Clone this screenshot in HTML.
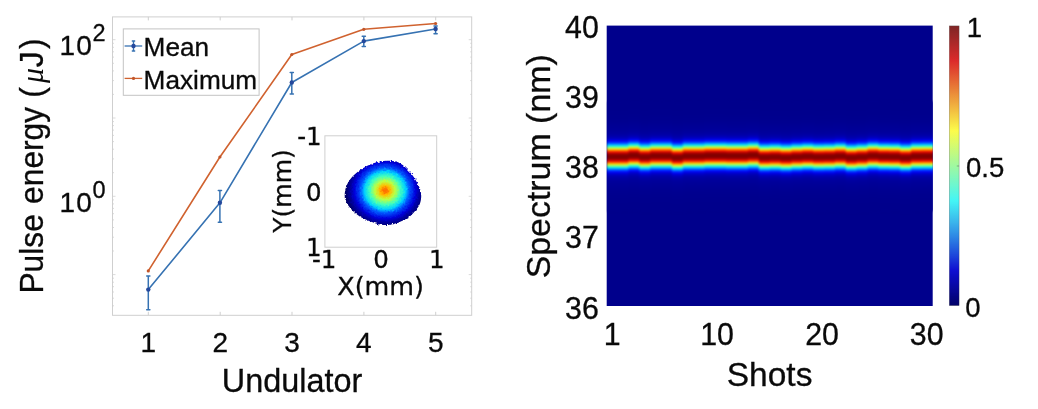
<!DOCTYPE html>
<html><head><meta charset="utf-8"><title>Figure</title>
<style>
html,body{margin:0;padding:0;background:#fff;}
body{width:1038px;height:409px;overflow:hidden;}
svg{display:block;}
text{font-family:"Liberation Sans",sans-serif;fill:#0a0a0a;stroke:#0a0a0a;stroke-width:0.3px;}
.dj{font-family:"DejaVu Sans",sans-serif;}
</style></head><body>
<svg width="1038" height="409" viewBox="0 0 1038 409">
<defs>
<linearGradient id="band" x1="0" y1="0" x2="0" y2="1"><stop offset="0.0000" stop-color="#00008c"/><stop offset="0.0091" stop-color="#00008c"/><stop offset="0.0182" stop-color="#00008c"/><stop offset="0.0273" stop-color="#00008c"/><stop offset="0.0364" stop-color="#00008c"/><stop offset="0.0455" stop-color="#00008c"/><stop offset="0.0545" stop-color="#00008c"/><stop offset="0.0636" stop-color="#00008c"/><stop offset="0.0727" stop-color="#00008c"/><stop offset="0.0818" stop-color="#00008d"/><stop offset="0.0909" stop-color="#00008d"/><stop offset="0.1000" stop-color="#00008d"/><stop offset="0.1091" stop-color="#00008d"/><stop offset="0.1182" stop-color="#00008d"/><stop offset="0.1273" stop-color="#00008e"/><stop offset="0.1364" stop-color="#00008e"/><stop offset="0.1455" stop-color="#00008e"/><stop offset="0.1545" stop-color="#00008f"/><stop offset="0.1636" stop-color="#00008f"/><stop offset="0.1727" stop-color="#000090"/><stop offset="0.1818" stop-color="#000090"/><stop offset="0.1909" stop-color="#000091"/><stop offset="0.2000" stop-color="#000092"/><stop offset="0.2091" stop-color="#000093"/><stop offset="0.2182" stop-color="#000094"/><stop offset="0.2273" stop-color="#000095"/><stop offset="0.2364" stop-color="#000096"/><stop offset="0.2455" stop-color="#000097"/><stop offset="0.2545" stop-color="#000098"/><stop offset="0.2636" stop-color="#00009a"/><stop offset="0.2727" stop-color="#00009b"/><stop offset="0.2818" stop-color="#00009d"/><stop offset="0.2909" stop-color="#0000a0"/><stop offset="0.3000" stop-color="#0000a3"/><stop offset="0.3091" stop-color="#0000a8"/><stop offset="0.3182" stop-color="#0000ae"/><stop offset="0.3273" stop-color="#0000b7"/><stop offset="0.3364" stop-color="#0000c3"/><stop offset="0.3455" stop-color="#0000d5"/><stop offset="0.3545" stop-color="#0000ec"/><stop offset="0.3636" stop-color="#000dff"/><stop offset="0.3727" stop-color="#0035ff"/><stop offset="0.3818" stop-color="#0068ff"/><stop offset="0.3909" stop-color="#00a5ff"/><stop offset="0.4000" stop-color="#00ecff"/><stop offset="0.4091" stop-color="#3cffc3"/><stop offset="0.4182" stop-color="#92ff6d"/><stop offset="0.4273" stop-color="#ecff13"/><stop offset="0.4364" stop-color="#ffba00"/><stop offset="0.4455" stop-color="#ff6600"/><stop offset="0.4545" stop-color="#ff1b00"/><stop offset="0.4636" stop-color="#db0000"/><stop offset="0.4727" stop-color="#aa0000"/><stop offset="0.4818" stop-color="#890000"/><stop offset="0.4909" stop-color="#800000"/><stop offset="0.5000" stop-color="#800000"/><stop offset="0.5091" stop-color="#800000"/><stop offset="0.5182" stop-color="#890000"/><stop offset="0.5273" stop-color="#aa0000"/><stop offset="0.5364" stop-color="#db0000"/><stop offset="0.5455" stop-color="#ff1b00"/><stop offset="0.5545" stop-color="#ff6600"/><stop offset="0.5636" stop-color="#ffba00"/><stop offset="0.5727" stop-color="#ecff13"/><stop offset="0.5818" stop-color="#92ff6d"/><stop offset="0.5909" stop-color="#3cffc3"/><stop offset="0.6000" stop-color="#00ecff"/><stop offset="0.6091" stop-color="#00a5ff"/><stop offset="0.6182" stop-color="#0068ff"/><stop offset="0.6273" stop-color="#0035ff"/><stop offset="0.6364" stop-color="#000dff"/><stop offset="0.6455" stop-color="#0000ec"/><stop offset="0.6545" stop-color="#0000d5"/><stop offset="0.6636" stop-color="#0000c3"/><stop offset="0.6727" stop-color="#0000b7"/><stop offset="0.6818" stop-color="#0000ae"/><stop offset="0.6909" stop-color="#0000a8"/><stop offset="0.7000" stop-color="#0000a3"/><stop offset="0.7091" stop-color="#0000a0"/><stop offset="0.7182" stop-color="#00009d"/><stop offset="0.7273" stop-color="#00009b"/><stop offset="0.7364" stop-color="#00009a"/><stop offset="0.7455" stop-color="#000098"/><stop offset="0.7545" stop-color="#000097"/><stop offset="0.7636" stop-color="#000096"/><stop offset="0.7727" stop-color="#000095"/><stop offset="0.7818" stop-color="#000094"/><stop offset="0.7909" stop-color="#000093"/><stop offset="0.8000" stop-color="#000092"/><stop offset="0.8091" stop-color="#000091"/><stop offset="0.8182" stop-color="#000090"/><stop offset="0.8273" stop-color="#000090"/><stop offset="0.8364" stop-color="#00008f"/><stop offset="0.8455" stop-color="#00008f"/><stop offset="0.8545" stop-color="#00008e"/><stop offset="0.8636" stop-color="#00008e"/><stop offset="0.8727" stop-color="#00008e"/><stop offset="0.8818" stop-color="#00008d"/><stop offset="0.8909" stop-color="#00008d"/><stop offset="0.9000" stop-color="#00008d"/><stop offset="0.9091" stop-color="#00008d"/><stop offset="0.9182" stop-color="#00008d"/><stop offset="0.9273" stop-color="#00008c"/><stop offset="0.9364" stop-color="#00008c"/><stop offset="0.9455" stop-color="#00008c"/><stop offset="0.9545" stop-color="#00008c"/><stop offset="0.9636" stop-color="#00008c"/><stop offset="0.9727" stop-color="#00008c"/><stop offset="0.9818" stop-color="#00008c"/><stop offset="0.9909" stop-color="#00008c"/><stop offset="1.0000" stop-color="#00008c"/></linearGradient>
<linearGradient id="cbar" x1="0" y1="0" x2="0" y2="1"><stop offset="0.0000" stop-color="#800000"/><stop offset="0.0312" stop-color="#9f0000"/><stop offset="0.0625" stop-color="#bf0000"/><stop offset="0.0938" stop-color="#df0000"/><stop offset="0.1250" stop-color="#ff0000"/><stop offset="0.1562" stop-color="#ff2000"/><stop offset="0.1875" stop-color="#ff4000"/><stop offset="0.2188" stop-color="#ff6000"/><stop offset="0.2500" stop-color="#ff8000"/><stop offset="0.2812" stop-color="#ff9f00"/><stop offset="0.3125" stop-color="#ffbf00"/><stop offset="0.3438" stop-color="#ffdf00"/><stop offset="0.3750" stop-color="#ffff00"/><stop offset="0.4062" stop-color="#dfff20"/><stop offset="0.4375" stop-color="#bfff40"/><stop offset="0.4688" stop-color="#9fff60"/><stop offset="0.5000" stop-color="#80ff80"/><stop offset="0.5312" stop-color="#60ff9f"/><stop offset="0.5625" stop-color="#40ffbf"/><stop offset="0.5938" stop-color="#20ffdf"/><stop offset="0.6250" stop-color="#00ffff"/><stop offset="0.6562" stop-color="#00dfff"/><stop offset="0.6875" stop-color="#00bfff"/><stop offset="0.7188" stop-color="#009fff"/><stop offset="0.7500" stop-color="#0080ff"/><stop offset="0.7812" stop-color="#0060ff"/><stop offset="0.8125" stop-color="#0040ff"/><stop offset="0.8438" stop-color="#0020ff"/><stop offset="0.8750" stop-color="#0000ff"/><stop offset="0.9062" stop-color="#0000df"/><stop offset="0.9375" stop-color="#0000bf"/><stop offset="0.9688" stop-color="#00009f"/><stop offset="1.0000" stop-color="#000080"/></linearGradient>
<radialGradient id="blob" gradientUnits="userSpaceOnUse" cx="385" cy="190.4" r="39" gradientTransform="translate(385 190.4) scale(1 0.92) translate(-385 -190.4)"><stop offset="0.000" stop-color="#ff6b00"/><stop offset="0.064" stop-color="#ff7a00"/><stop offset="0.133" stop-color="#ffbd00"/><stop offset="0.256" stop-color="#bdff42"/><stop offset="0.400" stop-color="#42ffbd"/><stop offset="0.526" stop-color="#00d1ff"/><stop offset="0.628" stop-color="#0057ff"/><stop offset="0.787" stop-color="#0000db"/><stop offset="0.87" stop-color="#0000a8"/><stop offset="0.95" stop-color="#000084"/><stop offset="1" stop-color="#00006c"/></radialGradient>
<filter id="rough" x="-5%" y="-5%" width="110%" height="110%"><feTurbulence type="fractalNoise" baseFrequency="0.5" numOctaves="2" seed="4" result="n"/><feDisplacementMap in="SourceGraphic" in2="n" scale="3" xChannelSelector="R" yChannelSelector="G"/></filter>
<clipPath id="hm"><rect x="606.7" y="25.6" width="326" height="280.4"/></clipPath>
<filter id="soft" color-interpolation-filters="sRGB" x="-5%" y="-5%" width="110%" height="110%"><feGaussianBlur stdDeviation="0.9"/></filter>
<filter id="desat" color-interpolation-filters="sRGB" x="-20%" y="-2%" width="140%" height="104%"><feColorMatrix type="saturate" values="0.8"/></filter>
<linearGradient id="wash" x1="0" y1="0" x2="0" y2="1"><stop offset="0" stop-color="#fff" stop-opacity="0.13"/><stop offset="0.7" stop-color="#fff" stop-opacity="0.13"/><stop offset="0.9" stop-color="#fff" stop-opacity="0.03"/><stop offset="1" stop-color="#fff" stop-opacity="0"/></linearGradient>
</defs>
<rect width="1038" height="409" fill="#fff"/>
<g id="left-axes" fill="none" stroke="#cfcfcf" stroke-width="1">
<rect x="112.5" y="16.9" width="359.2" height="298.4"/>
<path d="M148.3 315.3v-3.5M148.3 16.9v3.5"/>
<path d="M220.2 315.3v-3.5M220.2 16.9v3.5"/>
<path d="M292.0 315.3v-3.5M292.0 16.9v3.5"/>
<path d="M363.9 315.3v-3.5M363.9 16.9v3.5"/>
<path d="M435.7 315.3v-3.5M435.7 16.9v3.5"/>
<path stroke-opacity="0.75" d="M112.5 305.8h1.5M471.7 305.8h-1.5"/>
<path stroke-opacity="0.75" d="M112.5 298.2h1.5M471.7 298.2h-1.5"/>
<path stroke-opacity="0.75" d="M112.5 292.0h1.5M471.7 292.0h-1.5"/>
<path stroke-opacity="0.75" d="M112.5 286.7h1.5M471.7 286.7h-1.5"/>
<path stroke-opacity="0.75" d="M112.5 282.2h1.5M471.7 282.2h-1.5"/>
<path stroke-opacity="0.75" d="M112.5 278.2h1.5M471.7 278.2h-1.5"/>
<path stroke-opacity="0.75" d="M112.5 274.6h3.0M471.7 274.6h-3.0"/>
<path stroke-opacity="0.75" d="M112.5 251.0h1.5M471.7 251.0h-1.5"/>
<path stroke-opacity="0.75" d="M112.5 237.2h1.5M471.7 237.2h-1.5"/>
<path stroke-opacity="0.75" d="M112.5 227.5h1.5M471.7 227.5h-1.5"/>
<path stroke-opacity="0.75" d="M112.5 219.9h1.5M471.7 219.9h-1.5"/>
<path stroke-opacity="0.75" d="M112.5 213.7h1.5M471.7 213.7h-1.5"/>
<path stroke-opacity="0.75" d="M112.5 208.4h1.5M471.7 208.4h-1.5"/>
<path stroke-opacity="0.75" d="M112.5 203.9h1.5M471.7 203.9h-1.5"/>
<path stroke-opacity="0.75" d="M112.5 199.9h1.5M471.7 199.9h-1.5"/>
<path stroke-opacity="0.75" d="M112.5 196.3h3.0M471.7 196.3h-3.0"/>
<path stroke-opacity="0.75" d="M112.5 172.7h1.5M471.7 172.7h-1.5"/>
<path stroke-opacity="0.75" d="M112.5 158.9h1.5M471.7 158.9h-1.5"/>
<path stroke-opacity="0.75" d="M112.5 149.2h1.5M471.7 149.2h-1.5"/>
<path stroke-opacity="0.75" d="M112.5 141.6h1.5M471.7 141.6h-1.5"/>
<path stroke-opacity="0.75" d="M112.5 135.4h1.5M471.7 135.4h-1.5"/>
<path stroke-opacity="0.75" d="M112.5 130.1h1.5M471.7 130.1h-1.5"/>
<path stroke-opacity="0.75" d="M112.5 125.6h1.5M471.7 125.6h-1.5"/>
<path stroke-opacity="0.75" d="M112.5 121.6h1.5M471.7 121.6h-1.5"/>
<path stroke-opacity="0.75" d="M112.5 118.0h3.0M471.7 118.0h-3.0"/>
<path stroke-opacity="0.75" d="M112.5 94.4h1.5M471.7 94.4h-1.5"/>
<path stroke-opacity="0.75" d="M112.5 80.6h1.5M471.7 80.6h-1.5"/>
<path stroke-opacity="0.75" d="M112.5 70.9h1.5M471.7 70.9h-1.5"/>
<path stroke-opacity="0.75" d="M112.5 63.3h1.5M471.7 63.3h-1.5"/>
<path stroke-opacity="0.75" d="M112.5 57.1h1.5M471.7 57.1h-1.5"/>
<path stroke-opacity="0.75" d="M112.5 51.8h1.5M471.7 51.8h-1.5"/>
<path stroke-opacity="0.75" d="M112.5 47.3h1.5M471.7 47.3h-1.5"/>
<path stroke-opacity="0.75" d="M112.5 43.3h1.5M471.7 43.3h-1.5"/>
<path stroke-opacity="0.75" d="M112.5 39.7h3.0M471.7 39.7h-3.0"/>
</g>
<g id="series" fill="none" stroke-linejoin="round" stroke-linecap="round">
<polyline stroke="#d0622f" stroke-width="1.6" points="148.3,270.9 219.9,157.0 291.8,54.5 363.8,29.3 435.6,23.5"/>
<polyline stroke="#3672b2" stroke-width="1.6" points="148.3,289.6 219.9,202.8 291.8,82.5 363.8,41.1 435.6,29.0"/>
<path stroke="#3672b2" stroke-width="1.5" d="M148.3 276.0V309.8M146.7 276.0h3.2M146.7 309.8h3.2"/>
<circle cx="148.3" cy="289.6" r="2.2" fill="#24489c" stroke="none"/>
<path stroke="#3672b2" stroke-width="1.5" d="M219.9 190.6V222.2M218.3 190.6h3.2M218.3 222.2h3.2"/>
<circle cx="219.9" cy="202.8" r="2.2" fill="#24489c" stroke="none"/>
<path stroke="#3672b2" stroke-width="1.5" d="M291.8 72.5V94.1M290.2 72.5h3.2M290.2 94.1h3.2"/>
<circle cx="291.8" cy="82.5" r="2.2" fill="#24489c" stroke="none"/>
<path stroke="#3672b2" stroke-width="1.5" d="M363.8 36.2V46.6M362.2 36.2h3.2M362.2 46.6h3.2"/>
<circle cx="363.8" cy="41.1" r="2.2" fill="#24489c" stroke="none"/>
<path stroke="#3672b2" stroke-width="1.5" d="M435.6 26.0V33.7M434.0 26.0h3.2M434.0 33.7h3.2"/>
<circle cx="435.6" cy="29.0" r="2.2" fill="#24489c" stroke="none"/>
<circle cx="148.3" cy="270.9" r="1.6" fill="#c2562a" stroke="none"/>
<circle cx="219.9" cy="157.0" r="1.6" fill="#c2562a" stroke="none"/>
<circle cx="291.8" cy="54.5" r="1.6" fill="#c2562a" stroke="none"/>
<circle cx="363.8" cy="29.3" r="1.6" fill="#c2562a" stroke="none"/>
<circle cx="435.6" cy="23.5" r="1.6" fill="#c2562a" stroke="none"/>
</g>
<g id="legend">
<rect x="123.3" y="28.9" width="135.8" height="66.4" fill="#fff" stroke="#c4c4c4" stroke-width="1"/>
<path d="M124.6 46H142.2" stroke="#3672b2" stroke-width="1.3"/><path d="M133.5 41v10M131.8 41h3.4M131.8 51h3.4" stroke="#3672b2" stroke-width="1.4" fill="none"/><circle cx="133.5" cy="46" r="2.2" fill="#24489c"/>
<path d="M124.6 78.4H142.2" stroke="#d0622f" stroke-width="1.3"/><circle cx="133.5" cy="78.4" r="1.6" fill="#c2562a"/>
<text x="143.6" y="56.2" font-size="26.2">Mean</text>
<text x="143.6" y="88.6" font-size="26.2">Maximum</text>
</g>
<g id="left-labels">
<text x="148.3" y="351.5" font-size="28" text-anchor="middle">1</text>
<text x="220.2" y="351.5" font-size="28" text-anchor="middle">2</text>
<text x="292.0" y="351.5" font-size="28" text-anchor="middle">3</text>
<text x="363.9" y="351.5" font-size="28" text-anchor="middle">4</text>
<text x="435.7" y="351.5" font-size="28" text-anchor="middle">5</text>
<text x="59.6" y="55.4" font-size="28"><tspan letter-spacing="1.2">10</tspan><tspan dy="-14.4" dx="-0.6" font-size="23.5">2</tspan></text>
<text x="59.6" y="212.2" font-size="28"><tspan letter-spacing="1.2">10</tspan><tspan dy="-14.4" dx="-0.6" font-size="23.5">0</tspan></text>
<text x="292" y="392.2" font-size="32.4" text-anchor="middle">Undulator</text>
<text transform="translate(42.8 293.6) rotate(-90) scale(0.956 1)" font-size="33.2" word-spacing="1.6">Pulse energy <tspan dx="-1.2">(</tspan><tspan dx="4.2" font-family="'Liberation Serif',serif" font-style="italic" font-size="31" stroke="none">μ</tspan><tspan dx="1">J</tspan><tspan dx="2.6">)</tspan></text>
</g>
<g id="inset">
<rect x="324.9" y="135.8" width="111.8" height="111.4" fill="#fff" stroke="#cfcfcf" stroke-width="1"/>
<path d="M387.9 160.8C390.7 160.9 394.1 161.0 396.7 161.8C399.3 162.6 401.4 164.1 403.6 165.7C405.7 167.3 407.5 169.3 409.4 171.6C411.4 173.9 413.6 176.6 415.3 179.4C417.0 182.2 418.8 185.4 419.8 188.2C420.8 191.0 421.2 193.4 421.2 196.0C421.2 198.6 420.8 201.4 419.8 203.9C418.8 206.3 417.2 208.4 415.3 210.7C413.4 213.0 411.1 215.7 408.5 217.6C405.8 219.4 402.7 220.9 399.6 222.1C396.5 223.3 393.1 224.4 389.9 224.8C386.6 225.2 383.3 225.0 380.1 224.4C376.8 223.9 373.4 222.6 370.3 221.5C367.2 220.3 364.3 219.2 361.5 217.6C358.7 215.9 355.9 213.8 353.7 211.7C351.4 209.6 349.3 207.3 347.8 204.8C346.3 202.4 345.2 199.6 344.8 197.0C344.5 194.4 344.8 191.8 345.4 189.2C346.1 186.6 347.2 183.8 348.8 181.4C350.3 178.9 352.4 176.6 354.6 174.5C356.9 172.4 359.7 170.4 362.5 168.6C365.2 166.9 368.3 165.3 371.3 164.1C374.2 162.9 377.3 161.9 380.1 161.4C382.8 160.8 385.1 160.7 387.9 160.8Z" fill="url(#blob)" filter="url(#rough)"/>
<g class="dj" font-size="24.5">
<text class="dj" x="321.6" y="145.2" text-anchor="end">-1</text>
<text class="dj" x="321.6" y="201.2" text-anchor="end">0</text>
<text class="dj" x="321.6" y="256.2" text-anchor="end">1</text>
<text class="dj" x="324.2" y="268.1" text-anchor="middle">-1</text>
<text class="dj" x="381" y="268.1" text-anchor="middle">0</text>
<text class="dj" x="436.8" y="268.1" text-anchor="middle">1</text>
<text class="dj" x="380.6" y="294.7" font-size="25.4" text-anchor="middle">X(mm)</text>
<text class="dj" transform="translate(291.3 191) rotate(-90)" font-size="25" text-anchor="middle">Y(mm)</text>
</g></g>
<g id="heatmap">
<rect x="606.7" y="25.6" width="326.0" height="280.4" fill="#00008c"/>
<g clip-path="url(#hm)" filter="url(#soft)">
<rect x="606.70" y="101.70" width="12.87" height="110.0" fill="url(#band)"/>
<rect x="617.57" y="101.70" width="12.87" height="110.0" fill="url(#band)"/>
<rect x="628.43" y="100.51" width="12.87" height="110.0" fill="url(#band)"/>
<rect x="639.30" y="102.04" width="12.87" height="110.0" fill="url(#band)"/>
<rect x="650.17" y="100.94" width="12.87" height="110.0" fill="url(#band)"/>
<rect x="661.03" y="100.94" width="12.87" height="110.0" fill="url(#band)"/>
<rect x="671.90" y="102.55" width="12.87" height="110.0" fill="url(#band)"/>
<rect x="682.77" y="101.10" width="12.87" height="110.0" fill="url(#band)"/>
<rect x="693.63" y="101.10" width="12.87" height="110.0" fill="url(#band)"/>
<rect x="704.50" y="100.59" width="12.87" height="110.0" fill="url(#band)"/>
<rect x="715.37" y="100.59" width="12.87" height="110.0" fill="url(#band)"/>
<rect x="726.23" y="100.85" width="12.87" height="110.0" fill="url(#band)"/>
<rect x="737.10" y="100.85" width="12.87" height="110.0" fill="url(#band)"/>
<rect x="747.97" y="100.17" width="12.87" height="110.0" fill="url(#band)"/>
<rect x="758.83" y="102.38" width="12.87" height="110.0" fill="url(#band)"/>
<rect x="769.70" y="102.04" width="12.87" height="110.0" fill="url(#band)"/>
<rect x="780.57" y="102.72" width="12.87" height="110.0" fill="url(#band)"/>
<rect x="791.43" y="101.95" width="12.87" height="110.0" fill="url(#band)"/>
<rect x="802.30" y="101.44" width="12.87" height="110.0" fill="url(#band)"/>
<rect x="813.17" y="102.04" width="12.87" height="110.0" fill="url(#band)"/>
<rect x="824.03" y="101.87" width="12.87" height="110.0" fill="url(#band)"/>
<rect x="834.90" y="101.19" width="12.87" height="110.0" fill="url(#band)"/>
<rect x="845.77" y="102.72" width="12.87" height="110.0" fill="url(#band)"/>
<rect x="856.63" y="102.04" width="12.87" height="110.0" fill="url(#band)"/>
<rect x="867.50" y="100.85" width="12.87" height="110.0" fill="url(#band)"/>
<rect x="878.37" y="101.53" width="12.87" height="110.0" fill="url(#band)"/>
<rect x="889.23" y="101.70" width="12.87" height="110.0" fill="url(#band)"/>
<rect x="900.10" y="102.72" width="12.87" height="110.0" fill="url(#band)"/>
<rect x="910.97" y="101.36" width="12.87" height="110.0" fill="url(#band)"/>
<rect x="921.83" y="101.27" width="12.87" height="110.0" fill="url(#band)"/>
</g></g>
<g id="right-labels">
<text transform="translate(598.8 38.2) scale(0.96 1)" font-size="31.6" text-anchor="end">40</text>
<text transform="translate(598.8 108.3) scale(0.96 1)" font-size="31.6" text-anchor="end">39</text>
<text transform="translate(598.8 178.4) scale(0.96 1)" font-size="31.6" text-anchor="end">38</text>
<text transform="translate(598.8 248.4) scale(0.96 1)" font-size="31.6" text-anchor="end">37</text>
<text transform="translate(598.8 318.5) scale(0.96 1)" font-size="31.6" text-anchor="end">36</text>
<text transform="translate(612.2 345.2) scale(0.96 1)" font-size="31.6" text-anchor="middle">1</text>
<text transform="translate(717.0 345.2) scale(0.96 1)" font-size="31.6" text-anchor="middle">10</text>
<text transform="translate(822.0 345.2) scale(0.96 1)" font-size="31.6" text-anchor="middle">20</text>
<text transform="translate(926.7 345.2) scale(0.96 1)" font-size="31.6" text-anchor="middle">30</text>
<text x="769.6" y="385.8" font-size="33.5" text-anchor="middle">Shots</text>
<text transform="translate(549.7 166.3) rotate(-90)" font-size="33.9" text-anchor="middle">Spectrum (nm)</text>
</g>
<g id="colorbar">
<rect x="949.3" y="25.9" width="9.8" height="279.7" fill="url(#cbar)" stroke="#333" stroke-opacity="0.45" stroke-width="0.6" filter="url(#desat)"/>
<rect x="949.3" y="25.9" width="9.8" height="279.7" fill="url(#wash)"/>
<path d="M956.8 166h2.3" stroke="#444" stroke-opacity="0.6" stroke-width="0.7"/>
<text x="966.7" y="36.7" font-size="27.5">1</text>
<text x="966" y="177" font-size="27.5">0.5</text>
<text x="965.3" y="317.4" font-size="27.5">0</text>
</g>
</svg></body></html>
